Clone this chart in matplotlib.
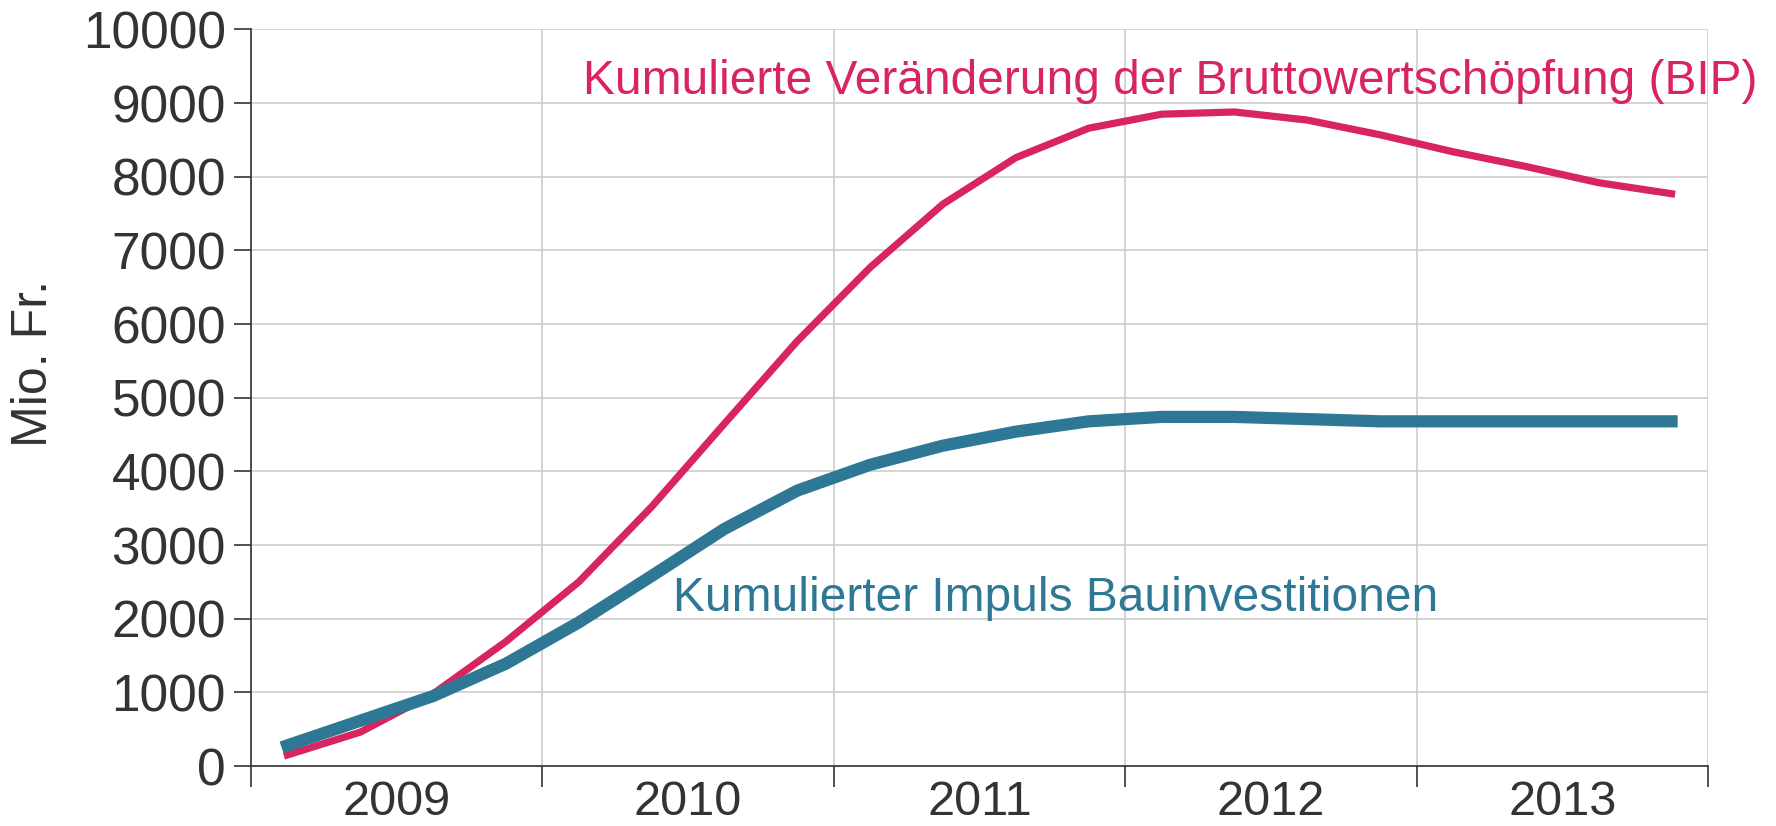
import numpy as np
import matplotlib.pyplot as plt

# quarterly values 2009-2013, Mio. Fr.
years = ['2009', '2010', '2011', '2012', '2013']
bip = [150, 460, 980, 1690, 2500, 3520, 4650, 5770, 6770, 7630,
       8260, 8660, 8850, 8880, 8770, 8570, 8340, 8140, 7920, 7770]
bau = [280, 615, 950, 1390, 1950, 2580, 3220, 3740, 4090, 4350,
       4540, 4680, 4740, 4740, 4710, 4680, 4680, 4680, 4680, 4680]

red = '#d8245f'
blue = '#2e7896'
txt = '#333333'

plt.rcParams['font.family'] = ['Liberation Sans', 'DejaVu Sans']

fig = plt.figure(figsize=(17.76, 8.26), dpi=100)
ax = fig.add_axes([0.1413, 0.0726, 0.8204, 0.8917])

x = np.arange(len(bip))
ax.plot(x, bip, color=red, lw=5.2, solid_joinstyle='miter', zorder=3)
ax.plot(x, bau, color=blue, lw=8.8, solid_joinstyle='miter', zorder=4)

ax.set_xlim(-0.5, 19.5)
ax.set_ylim(0, 10000)
ax.set_yticks(np.arange(0, 10001, 1000))
ax.set_xticks(np.arange(-0.5, 20, 4))
ax.set_xticklabels([])
ax.set_xticks(np.arange(1.5, 20, 4), minor=True)
ax.set_xticklabels(years, minor=True)

ax.tick_params(axis='y', labelsize=37, colors=txt, length=12, width=1.2, pad=6)
ax.tick_params(axis='x', which='major', length=15, width=1.2, color=txt)
ax.tick_params(axis='x', which='minor', length=0, labelsize=35, labelcolor=txt, pad=10)

ax.grid(True, which='major', color='#cccccc', lw=1.2)
ax.set_axisbelow(True)
for s in ['top', 'right']:
    ax.spines[s].set_visible(False)
for s in ['left', 'bottom']:
    ax.spines[s].set_color(txt)
    ax.spines[s].set_linewidth(1.2)

ax.set_ylabel('Mio. Fr.', fontsize=36, color=txt)
ax.yaxis.set_label_coords(-0.133, 0.546)

ax.text(4.06, 9300, 'Kumulierte Veränderung der Bruttowertschöpfung (BIP)',
        color=red, fontsize=34.5, ha='left', va='center')
ax.text(5.29, 2270, 'Kumulierter Impuls Bauinvestitionen',
        color=blue, fontsize=34.5, ha='left', va='center')

fig.savefig('out.png', dpi=100)
